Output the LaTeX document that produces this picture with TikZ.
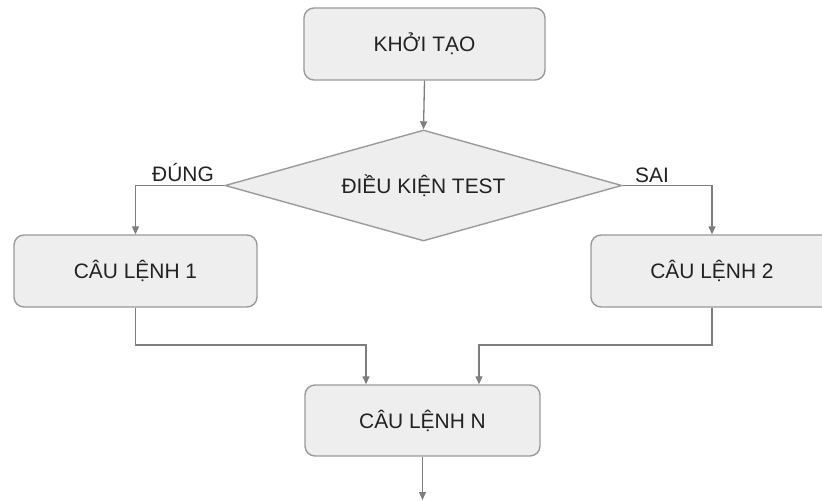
\documentclass[tikz,border=0pt]{standalone}
\usepackage{fontspec}
\setmainfont{Liberation Sans}
\usetikzlibrary{shapes.geometric,arrows.meta}
\definecolor{boxfill}{HTML}{EEEEEE}
\definecolor{boxline}{HTML}{9A9A9A}
\definecolor{conn}{HTML}{7E7E7E}
\definecolor{txt}{HTML}{222222}
\tikzset{
  stepbox/.style={draw=boxline, line width=1.4bp, fill=boxfill, rounded corners=10bp,
    minimum width=#1, minimum height=72bp, inner sep=0pt, text=txt,
    font=\fontsize{21}{24}\selectfont},
  decbox/.style={draw=boxline, line width=1.4bp, fill=boxfill, diamond, aspect=3.58,
    minimum width=397bp, minimum height=111bp, inner sep=0pt, text=txt,
    font=\fontsize{21}{24}\selectfont},
  arr/.style={draw=conn, line width=1.3bp, -{Triangle[length=8bp,width=7bp]}},
  lbl/.style={text=txt, inner sep=0pt, font=\fontsize{21}{24}\selectfont},
}
\begin{document}
\begin{tikzpicture}[x=1bp,y=-1bp]
\useasboundingbox (0,0) rectangle (822,501);
\clip (0,0) rectangle (822,501);
\node[stepbox=241bp] (init) at (424.5,44) {KHỞI TẠO};
\node[decbox] (cond) at (423.5,185.5) {ĐIỀU KIỆN TEST\hspace{14bp}};
\node[stepbox=243bp] (s1) at (135.5,271) {CÂU LỆNH 1};
\node[stepbox=242bp] (s2) at (712,271) {CÂU LỆNH 2};
\node[stepbox=235bp, minimum height=71bp] (sn) at (422.5,420.5) {CÂU LỆNH N};
\node[lbl, anchor=base west] (yes) at (152,182) {ĐÚNG};
\node[lbl, anchor=base west] (no) at (635,183) {SAI};
\coordinate (j1) at (366,345);
\coordinate (j2) at (479,345);
\coordinate (out) at (sn.south |- 0,500);
\draw[arr] (init.south) -- (cond.north);
\draw[arr] (cond.west) -| (s1.north);
\draw[arr] (cond.east) -| (s2.north);
\draw[arr] (s1.south) |- (j1) -- (j1 |- sn.north);
\draw[arr] (s2.south) |- (j2) -- (j2 |- sn.north);
\draw[arr] (sn.south) -- (out);
\end{tikzpicture}
\end{document}
